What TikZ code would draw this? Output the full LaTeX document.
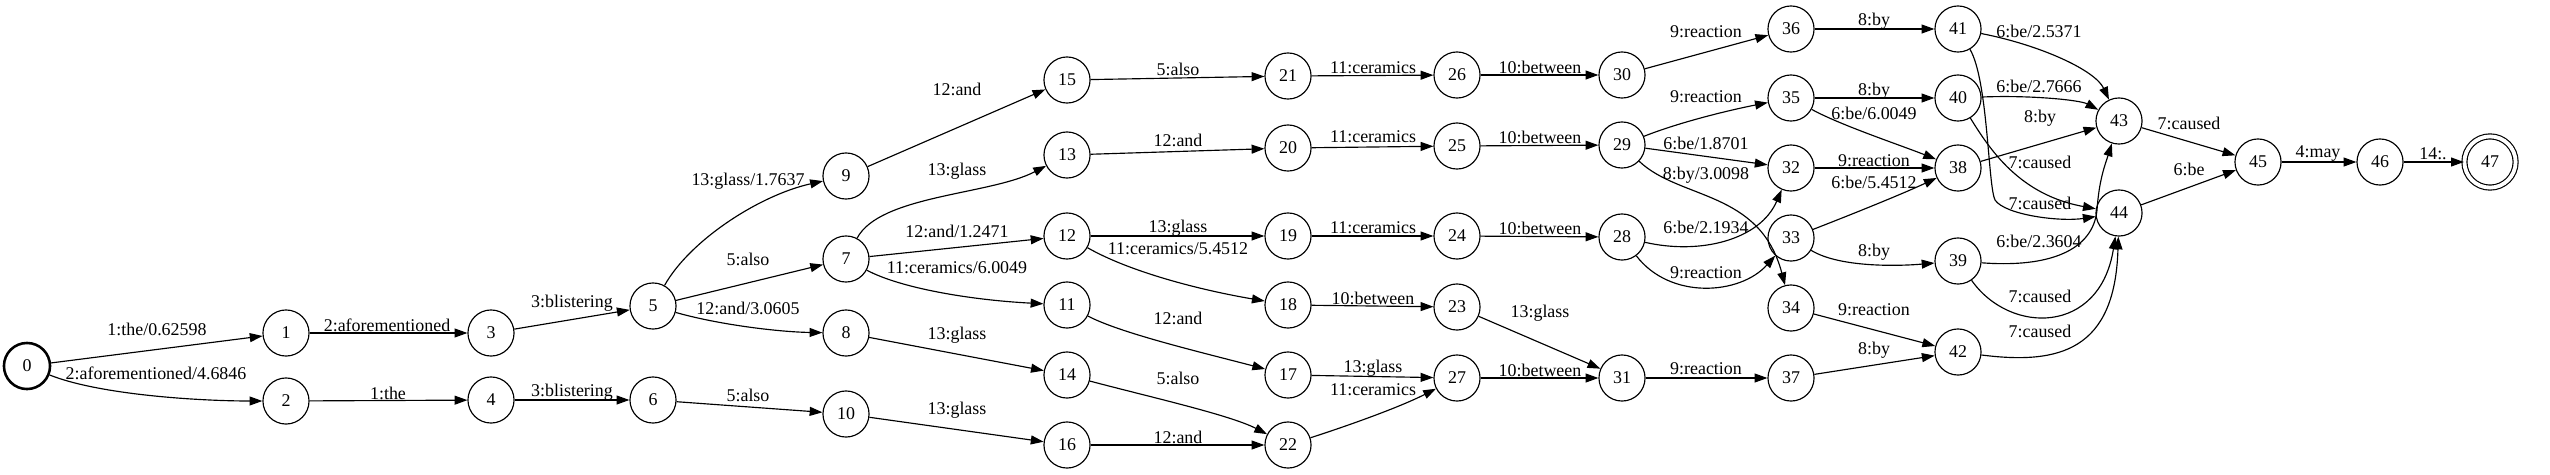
\documentclass[tikz,border=0pt]{standalone}
\usepackage{fontspec}
\setmainfont{Liberation Serif}
\newfontfamily\tms{Liberation Serif}
\usetikzlibrary{arrows.meta}
\begin{document}
\begin{tikzpicture}[x=0.78125pt,y=-0.78125pt,
  st/.style={circle,draw,line width=0.9pt,minimum size=36pt,inner sep=0pt,font=\tms\fontsize{14}{16}\selectfont},
  start/.style={st,line width=2pt},
  final/.style={st,double,double distance=3pt,minimum size=40pt},
  lbl/.style={inner sep=0pt,font=\tms\fontsize{14}{16}\selectfont},
  e/.style={line width=0.9pt,-{Triangle[length=10pt,width=7pt]}}]
\useasboundingbox (0,0) rectangle (2550,474);
% states
\node[start] (n0) at (27,366) {0};
\node[st] (n1) at (286,333) {1};
\node[st] (n2) at (286,401) {2};
\node[st] (n3) at (491,333) {3};
\node[st] (n4) at (491,400) {4};
\node[st] (n5) at (653,306) {5};
\node[st] (n6) at (653,400) {6};
\node[st] (n7) at (846,259) {7};
\node[st] (n8) at (846,333) {8};
\node[st] (n9) at (846,176) {9};
\node[st] (n10) at (846,414) {10};
\node[st] (n11) at (1067,305) {11};
\node[st] (n12) at (1067,236) {12};
\node[st] (n13) at (1067,155) {13};
\node[st] (n14) at (1067,375) {14};
\node[st] (n15) at (1067,80) {15};
\node[st] (n16) at (1067,445) {16};
\node[st] (n17) at (1288,375) {17};
\node[st] (n18) at (1288,305) {18};
\node[st] (n19) at (1288,236) {19};
\node[st] (n20) at (1288,148) {20};
\node[st] (n21) at (1288,76) {21};
\node[st] (n22) at (1288,445) {22};
\node[st] (n23) at (1457,307) {23};
\node[st] (n24) at (1457,236) {24};
\node[st] (n25) at (1457,146) {25};
\node[st] (n26) at (1457,75) {26};
\node[st] (n27) at (1457,378) {27};
\node[st] (n28) at (1622,237) {28};
\node[st] (n29) at (1622,145) {29};
\node[st] (n30) at (1622,75) {30};
\node[st] (n31) at (1622,378) {31};
\node[st] (n32) at (1791,168) {32};
\node[st] (n33) at (1791,238) {33};
\node[st] (n34) at (1791,308) {34};
\node[st] (n35) at (1791,98) {35};
\node[st] (n36) at (1791,29) {36};
\node[st] (n37) at (1791,378) {37};
\node[st] (n38) at (1958,168) {38};
\node[st] (n39) at (1958,261) {39};
\node[st] (n40) at (1958,98) {40};
\node[st] (n41) at (1958,29) {41};
\node[st] (n42) at (1958,352) {42};
\node[st] (n43) at (2119,121) {43};
\node[st] (n44) at (2119,213) {44};
\node[st] (n45) at (2258,162) {45};
\node[st] (n46) at (2380,162) {46};
\node[final] (n47) at (2490,162) {47};
% edges
\draw[e] (n0) -- (n1);
\draw[e] (n0) .. controls (100,395) and (200,401) .. (n2);
\draw[e] (n1) -- (n3);
\draw[e] (n2) -- (n4);
\draw[e] (n3) -- (n5);
\draw[e] (n4) -- (n6);
\draw[e] (n5) .. controls (690,240) and (760,195) .. (n9);
\draw[e] (n5) -- (n7);
\draw[e] (n5) .. controls (720,325) and (780,332) .. (n8);
\draw[e] (n6) -- (n10);
\draw[e] (n9) -- (n15);
\draw[e] (n7) .. controls (880,195) and (990,195) .. (n13);
\draw[e] (n7) -- (n12);
\draw[e] (n7) .. controls (900,288) and (970,300) .. (n11);
\draw[e] (n8) -- (n14);
\draw[e] (n10) -- (n16);
\draw[e] (n15) -- (n21);
\draw[e] (n13) -- (n20);
\draw[e] (n12) -- (n19);
\draw[e] (n12) .. controls (1130,272) and (1200,290) .. (n18);
\draw[e] (n11) .. controls (1120,333) and (1200,352) .. (n17);
\draw[e] (n14) .. controls (1150,397) and (1230,415) .. (n22);
\draw[e] (n16) -- (n22);
\draw[e] (n21) -- (n26);
\draw[e] (n26) -- (n30);
\draw[e] (n20) -- (n25);
\draw[e] (n25) -- (n29);
\draw[e] (n19) -- (n24);
\draw[e] (n24) -- (n28);
\draw[e] (n18) -- (n23);
\draw[e] (n23) -- (n31);
\draw[e] (n17) -- (n27);
\draw[e] (n22) .. controls (1350,425) and (1400,407) .. (n27);
\draw[e] (n27) -- (n31);
\draw[e] (n30) -- (n36);
\draw[e] (n36) -- (n41);
\draw[e] (n29) .. controls (1680,122) and (1730,110) .. (n35);
\draw[e] (n35) -- (n40);
\draw[e] (n35) .. controls (1840,125) and (1900,145) .. (n38);
\draw[e] (n29) -- (n32);
\draw[e] (n29) .. controls (1680,200) and (1760,190) .. (n34);
\draw[e] (n32) -- (n38);
\draw[e] (n33) .. controls (1850,215) and (1900,195) .. (n38);
\draw[e] (n28) .. controls (1700,255) and (1760,240) .. (n32);
\draw[e] (n28) .. controls (1670,300) and (1740,295) .. (n33);
\draw[e] (n33) .. controls (1840,268) and (1900,266) .. (n39);
\draw[e] (n34) -- (n42);
\draw[e] (n31) -- (n37);
\draw[e] (n37) -- (n42);
\draw[e] (n41) .. controls (2040,45) and (2095,70) .. (n43);
\draw[e] (n40) .. controls (2030,95) and (2080,100) .. (n43);
\draw[e] (n38) -- (n43);
\draw[e] (n41) .. controls (1988,80) and (1988,186) .. (1995,200) .. controls (2005,215) and (2060,222) .. (n44);
\draw[e] (n40) .. controls (1990,150) and (2020,195) .. (n44);
\draw[e] (n39) .. controls (2050,268) and (2093,250) .. (2097,210) .. controls (2099,180) and (2105,165) .. (n43);
\draw[e] (n39) .. controls (2010,335) and (2100,335) .. (n44);
\draw[e] (n42) .. controls (2060,365) and (2115,350) .. (n44);
\draw[e] (n43) -- (n45);
\draw[e] (n44) -- (n45);
\draw[e] (n45) -- (n46);
\draw[e] (n46) -- (n47);
% labels
\node[lbl] (l0a) at (157,329) {1:the/0.62598};
\node[lbl] (l0b) at (156,373) {2:aforementioned/4.6846};
\node[lbl] (l1) at (387,325) {2:aforementioned};
\node[lbl] (l2) at (388,393) {1:the};
\node[lbl] (l3) at (572,303) {3:blistering};
\node[lbl] (l4) at (572,392) {3:blistering};
\node[lbl] (l5a) at (748,181) {13:glass/1.7637};
\node[lbl] (l5b) at (748,259) {5:also};
\node[lbl] (l5c) at (748,308) {12:and/3.0605};
\node[lbl] (l6) at (748,395) {5:also};
\node[lbl] (l9) at (957,89) {12:and};
\node[lbl] (l7a) at (957,171) {13:glass};
\node[lbl] (l7b) at (957,231) {12:and/1.2471};
\node[lbl] (l7c) at (957,268) {11:ceramics/6.0049};
\node[lbl] (l8) at (957,335) {13:glass};
\node[lbl] (l10) at (957,410) {13:glass};
\node[lbl] (l15) at (1178,69) {5:also};
\node[lbl] (l13) at (1178,140) {12:and};
\node[lbl] (l12a) at (1178,228) {13:glass};
\node[lbl] (l12b) at (1178,249) {11:ceramics/5.4512};
\node[lbl] (l11) at (1178,318) {12:and};
\node[lbl] (l14) at (1178,378) {5:also};
\node[lbl] (l16) at (1178,437) {12:and};
\node[lbl] (l21) at (1373,68) {11:ceramics};
\node[lbl] (l26) at (1540,67) {10:between};
\node[lbl] (l20) at (1373,137) {11:ceramics};
\node[lbl] (l25) at (1540,137) {10:between};
\node[lbl] (l19) at (1373,228) {11:ceramics};
\node[lbl] (l24) at (1540,228) {10:between};
\node[lbl] (l18) at (1373,298) {10:between};
\node[lbl] (l23) at (1540,313) {13:glass};
\node[lbl] (l17) at (1373,368) {13:glass};
\node[lbl] (l22) at (1373,390) {11:ceramics};
\node[lbl] (l27) at (1540,370) {10:between};
\node[lbl] (l30) at (1706,32) {9:reaction};
\node[lbl] (l36) at (1874,21) {8:by};
\node[lbl] (l29a) at (1706,97) {9:reaction};
\node[lbl] (l35a) at (1874,91) {8:by};
\node[lbl] (l35b) at (1874,113) {6:be/6.0049};
\node[lbl] (l29b) at (1706,143) {6:be/1.8701};
\node[lbl] (l29c) at (1706,175) {8:by/3.0098};
\node[lbl] (l32) at (1874,161) {9:reaction};
\node[lbl] (l33a) at (1874,182) {6:be/5.4512};
\node[lbl] (l28a) at (1706,227) {6:be/2.1934};
\node[lbl] (l28b) at (1706,273) {9:reaction};
\node[lbl] (l33b) at (1874,252) {8:by};
\node[lbl] (l34) at (1874,310) {9:reaction};
\node[lbl] (l31) at (1706,369) {9:reaction};
\node[lbl] (l37) at (1874,350) {8:by};
\node[lbl] (l41a) at (2039,31) {6:be/2.5371};
\node[lbl] (l40a) at (2039,86) {6:be/2.7666};
\node[lbl] (l38) at (2040,118) {8:by};
\node[lbl] (l40b) at (2040,162) {7:caused};
\node[lbl] (l41b) at (2040,203) {7:caused};
\node[lbl] (l39a) at (2039,241) {6:be/2.3604};
\node[lbl] (l39b) at (2040,296) {7:caused};
\node[lbl] (l42) at (2040,331) {7:caused};
\node[lbl] (l43) at (2189,123) {7:caused};
\node[lbl] (l44) at (2189,169) {6:be};
\node[lbl] (l45) at (2318,154) {4:may};
\node[lbl] (l46) at (2433,154) {14:.};
\end{tikzpicture}
\end{document}
